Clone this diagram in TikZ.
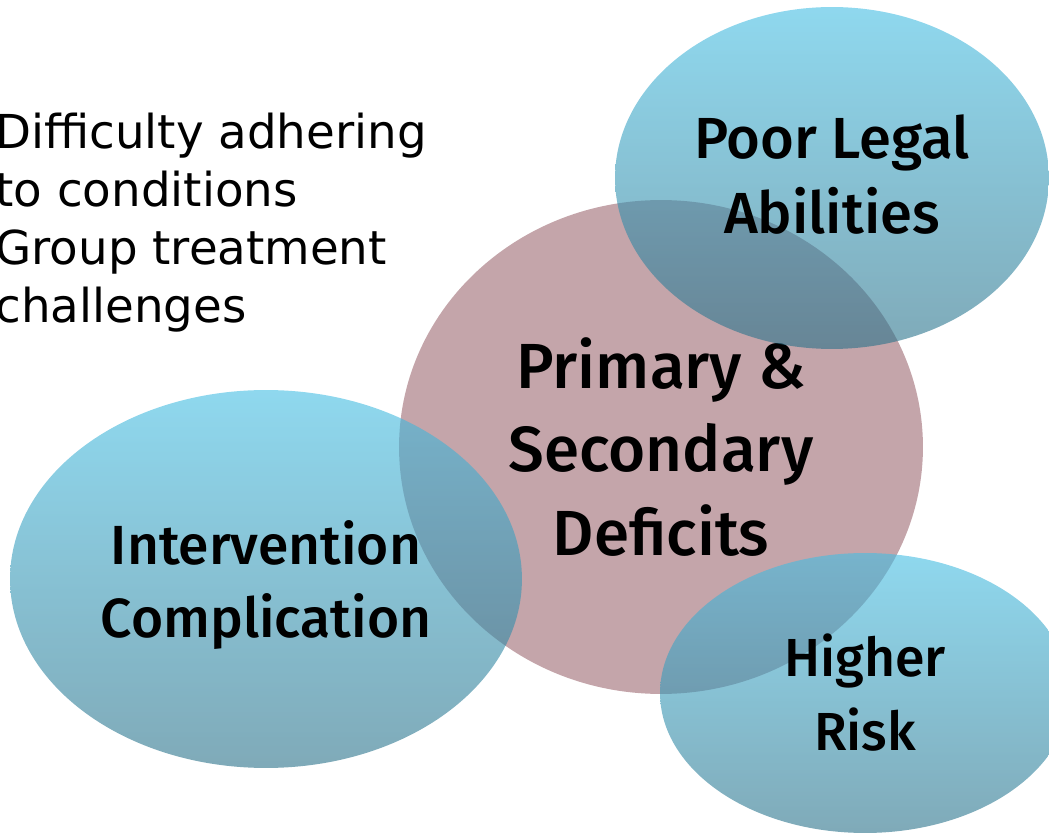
\documentclass[tikz,border=0pt]{standalone}
\usepackage{fontspec}
\setmainfont{DejaVu Sans}
\newfontfamily\labelfont{Fira Sans}[UprightFont=* Medium]
\usetikzlibrary{shapes.geometric}

\definecolor{mauve}{RGB}{196,165,170}
\definecolor{skytop}{RGB}{68,190,227}
\definecolor{skybottom}{RGB}{42,113,137}

\begin{document}
\begin{tikzpicture}[x=0.02cm, y=-0.02cm,
        bubble/.style={ellipse, inner sep=0pt, align=center, top color=skytop, bottom color=skybottom, fill opacity=0.6, text opacity=1}]
        \useasboundingbox (0,0) rectangle (1049,834);

        \node[anchor=north west, inner sep=0pt, align=left, font=\fontsize{26.6}{33}\selectfont] (hurdles) at (-5,113) {Difficulty adhering\\to conditions\\Group treatment\\challenges};

        \node[ellipse, fill=mauve, inner sep=0pt, align=center, minimum width=10.48cm, minimum height=9.88cm, font=\labelfont\fontsize{36.3}{47.5}\selectfont] (deficits) at (661,447) {Primary \&\\Secondary\\Deficits};

        \node[bubble, minimum width=8.68cm, minimum height=6.84cm, text depth=4.5pt, font=\labelfont\fontsize{33}{42.7}\selectfont] (legal) at (832,178) {Poor Legal\\Abilities};
        \node[bubble, minimum width=10.24cm, minimum height=7.56cm, text depth=0pt, font=\labelfont\fontsize{31.4}{41.5}\selectfont] (intervention) at (266,579) {Intervention\\Complication};
        \node[bubble, minimum width=8.2cm, minimum height=5.6cm, font=\labelfont\fontsize{30.5}{42.1}\selectfont] (risk) at (865,693) {Higher\\Risk};

    \end{tikzpicture}
\end{document}
